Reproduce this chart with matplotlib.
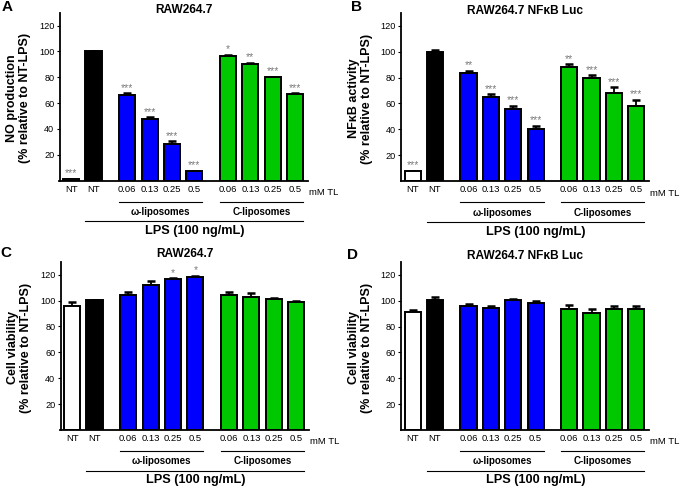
import numpy as np
import matplotlib
matplotlib.use("Agg")
import matplotlib.pyplot as plt

plt.rcParams['font.family'] = ['Liberation Sans', 'DejaVu Sans']

# bar order: NT (no LPS), NT + LPS, omega-liposomes x4, C-liposomes x4
tick_labels = ["NT", "NT", "0.06", "0.13", "0.25", "0.5", "0.06", "0.13", "0.25", "0.5"]

no_prod = [1, 100, 66.3, 47.9, 28.6, 7.1, 96.5, 90.6, 80, 66.8]
no_prod_err = [0.4, 0.5, 1.3, 1.3, 2, 0.5, 0.8, 0.5, 0.5, 0.7]
no_prod_stars = ["***", "", "***", "***", "***", "***", "*", "**", "***", "***"]

nfkb = [7.7, 100.2, 83.3, 65, 55.6, 40.5, 88.5, 79.5, 68, 58]
nfkb_err = [0.4, 0.8, 2, 2.3, 2.5, 2.3, 2, 2.3, 4.5, 4.8]
nfkb_stars = ["***", "", "**", "***", "***", "***", "**", "***", "***", "***"]

via_raw = [96, 100.3, 104.6, 111.8, 116.4, 118.2, 104.6, 102.8, 101.3, 98.5]
via_raw_err = [2.8, 0.5, 2, 3.5, 0.8, 0.8, 1.8, 2.8, 0.8, 1]
via_raw_stars = ["", "", "", "", "*", "*", "", "", "", ""]

via_luc = [91, 100.5, 95.9, 94.1, 100.5, 98.5, 93.6, 90.8, 93.8, 93.6]
via_luc_err = [1.5, 2.3, 1.5, 1.5, 0.8, 1, 3.3, 2.8, 1.8, 2]
via_luc_stars = [""] * 10

xpos = np.array([0, 1, 2.5, 3.5, 4.5, 5.5, 7, 8, 9, 10])
colors = ["white", "black"] + ["#0000ff"] * 4 + ["#00c800"] * 4

W, H = 687, 488
fig = plt.figure(figsize=(W / 100, H / 100), dpi=100)


def px_axes(left, right, bottom, top):
    return fig.add_axes([left / W, 1 - bottom / H, (right - left) / W, (bottom - top) / H])


def panel(ax, vals, errs, stars, title, title_y, ylab):
    zeros = [0] * len(errs)
    ax.bar(xpos, vals, width=0.72, color=colors, edgecolor="black", linewidth=1.4, zorder=2)
    ax.errorbar(xpos, vals, yerr=[zeros, errs], fmt="none", ecolor="black",
                elinewidth=1.3, capsize=3.2, capthick=1.8, zorder=1)
    for x, v, e, s in zip(xpos, vals, errs, stars):
        if s:
            ax.text(x, v + e + 0.3, s, ha="center", va="bottom", fontsize=7.5,
                    color="#7a7a7a")
    ax.set_xlim(-0.52, 10.57)
    ax.set_ylim(0, 130)
    ax.set_yticks([20, 40, 60, 80, 100, 120])
    ax.tick_params(axis="y", length=2.2, width=0.8, labelsize=6.6, pad=1.5)
    ax.set_xticks(xpos)
    ax.set_xticklabels(tick_labels)
    ax.tick_params(axis="x", length=0, labelsize=6.8, pad=3.2)
    for sp in ["top", "right"]:
        ax.spines[sp].set_visible(False)
    for sp in ["left", "bottom"]:
        ax.spines[sp].set_linewidth(1.3)
    ax.text(0.5, title_y, title, transform=ax.transAxes, ha="center", va="center",
            fontsize=8.6, fontweight="bold")
    ax.text(-0.165, 0.49, ylab, transform=ax.transAxes, ha="center", va="center",
            rotation=90, fontsize=9, fontweight="bold", linespacing=1.1)
    tr = ax.get_xaxis_transform()
    hpx = ax.get_position().height * H
    ax.text(10.57 + 0.05, -12 / hpx, "mM TL", transform=tr, ha="left", va="center",
            fontsize=6.8)
    hw = 0.36
    for lo, hi, name in [(2.5, 5.5, "\u03c9-liposomes"), (7, 10, "C-liposomes")]:
        ax.plot([lo - hw, hi + hw], [-21 / hpx] * 2, transform=tr, color="black",
                lw=0.8, clip_on=False)
        ax.text((lo + hi) / 2, -31.5 / hpx, name, transform=tr, ha="center",
                va="center", fontsize=7, fontweight="bold")
    ax.plot([1 - hw, 10 + hw], [-40.5 / hpx] * 2, transform=tr, color="black",
            lw=0.8, clip_on=False)
    ax.text(5.5, -50.5 / hpx, "LPS (100 ng/mL)", transform=tr, ha="center",
            va="center", fontsize=9.2, fontweight="bold")


axA = px_axes(59.5, 308, 180.5, 12.7)
axB = px_axes(401, 649, 181, 13)
axC = px_axes(60.5, 309, 430, 261.7)
axD = px_axes(401, 649, 430, 262)

panel(axA, no_prod, no_prod_err, no_prod_stars, "RAW264.7", 1.014,
      "NO production\n(% relative to NT-LPS)")
panel(axB, nfkb, nfkb_err, nfkb_stars, "RAW264.7 NF\u03baB Luc", 1.012,
      "NF\u03baB activity\n(% relative to NT-LPS)")
panel(axC, via_raw, via_raw_err, via_raw_stars, "RAW264.7", 1.046,
      "Cell viability\n(% relative to NT-LPS)")
panel(axD, via_luc, via_luc_err, via_luc_stars, "RAW264.7 NF\u03baB Luc", 1.036,
      "Cell viability\n(% relative to NT-LPS)")

for lab, x, y in [("A", 7, 7), ("B", 357, 7), ("C", 6, 253), ("D", 352, 255)]:
    fig.text(x / W, 1 - y / H, lab, ha="center", va="center", fontsize=11,
             fontweight="bold")

fig.savefig("out.png", dpi=100)
